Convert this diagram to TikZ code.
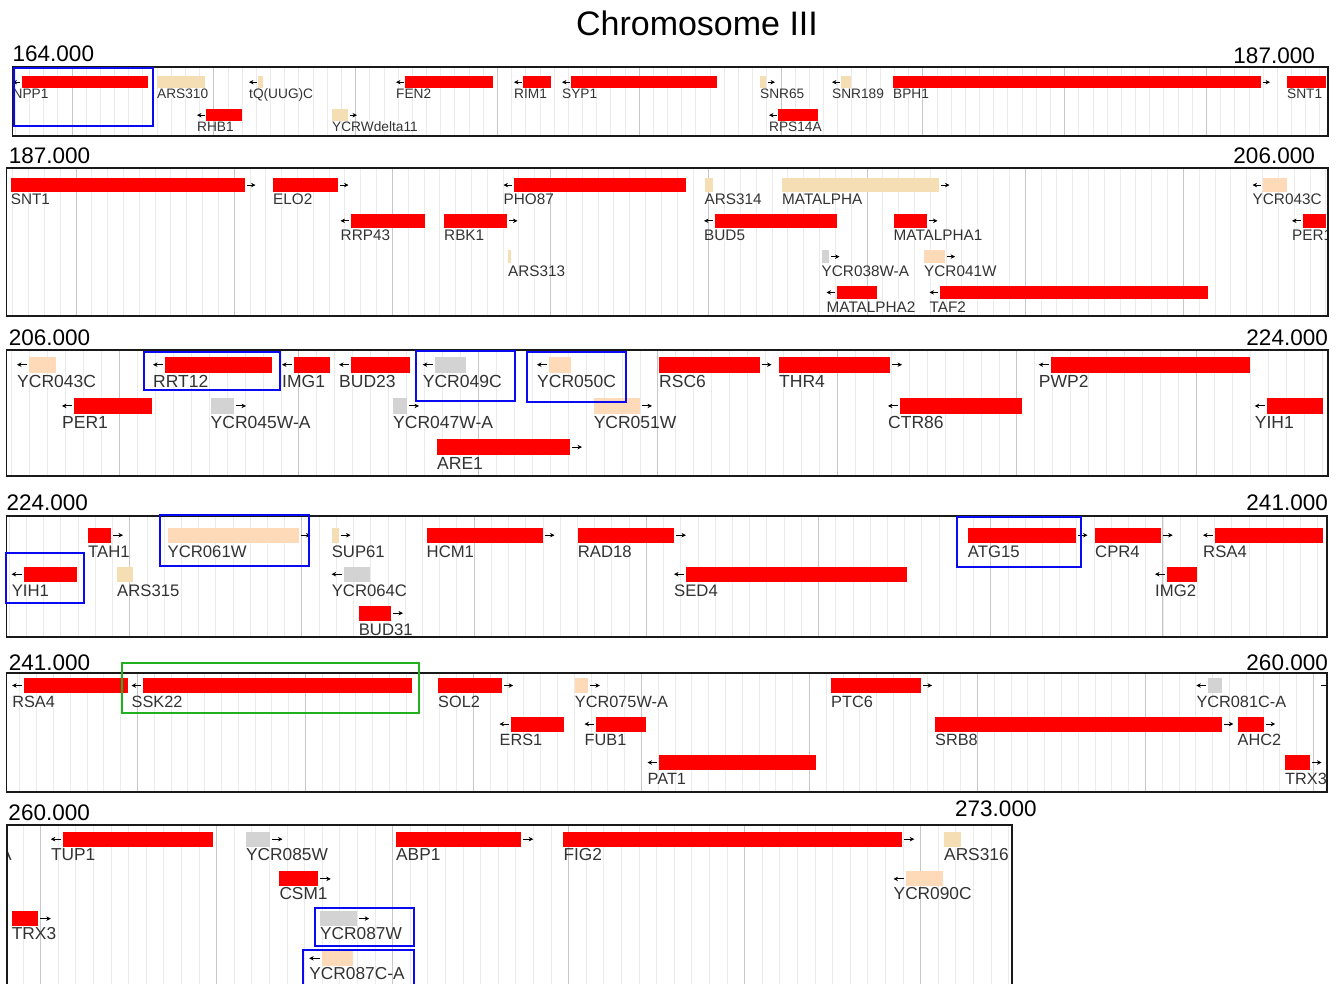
\documentclass[tikz,border=0pt]{standalone}
\usepackage{fontspec}
\setmainfont{Liberation Sans}
\usetikzlibrary{arrows.meta}

\definecolor{genered}{HTML}{FF0000}
\definecolor{wheatc}{HTML}{F5DEB3}
\definecolor{peachc}{HTML}{FFDAB9}
\definecolor{grayc}{HTML}{D3D3D3}
\definecolor{hiblue}{HTML}{0A0AF0}
\definecolor{higreen}{HTML}{20B020}

\tikzset{
  panelbox/.style={draw=black!90, line width=1.8pt},
  minorgrid/.style={draw=black!8, line width=0.9pt},
  majorgrid/.style={draw=black!22, line width=1pt},
  strand/.style={-{Stealth[length=4.5pt,width=4.5pt]}, line width=1pt, black},
  glabel/.style={anchor=base west, inner sep=0pt, text=black!80,
    font=\fontsize{\lblsize}{\lblsize}\selectfont},
  axislabel/.style={inner sep=0pt, font=\fontsize{22.5}{23}\selectfont},
  hilite/.style={draw=hiblue, line width=2pt},
}

\begin{document}
\begin{tikzpicture}[x=1pt, y=-1pt]
  \useasboundingbox (0,0) rectangle (1341,983);
  \fill[white] (0,0) rectangle (1341,983);
  \node[font=\fontsize{34}{36}\selectfont, anchor=base, inner sep=0pt] (title) at (697,35) {Chromosome III};

  % Panel 1: 164.000 - 187.000
  \node[axislabel, anchor=base west] (p1-start) at (12.5,61.5) {164.000};
  \node[axislabel, anchor=base east] (p1-end) at (1315,63) {187.000};
  \begin{scope}
    \clip (12.5,67) rectangle (1328,136);
    \foreach \k in {0,...,92} \draw[minorgrid] ({15.3+\k*14.18},67) -- ++(0,69);
    \foreach \k in {0,...,8} \draw[majorgrid] ({72+\k*141.8},67) -- ++(0,69);
    \def\lblsize{13.7}
    \foreach \xa/\xb/\rw/\cl/\sd/\nm [count=\i] in {
        21.5/148/1/genered/-1/NPP1, 157/205/1/wheatc/0/ARS310,
        258/263/1/wheatc/-1/{tQ(UUG)C}, 405/493/1/genered/-1/FEN2,
        523/551/1/genered/-1/RIM1, 571/717/1/genered/-1/SYP1,
        760/766/1/wheatc/1/SNR65, 841/851/1/wheatc/-1/SNR189,
        893/1261/1/genered/1/BPH1, 1287/1326/1/genered/1/SNT1,
        206/242/2/genered/-1/RHB1, 332/348/2/wheatc/1/YCRWdelta11,
        778/818/2/genered/-1/RPS14A} {
      \pgfmathsetmacro\yt{76+(\rw-1)*33}
      \fill[\cl] (\xa,\yt) rectangle (\xb,\yt+12.3);
      \ifnum\sd<0 \draw[strand] (\xa-1.5,\yt+6.15) -- ++(-7.5,0); \fi
      \ifnum\sd>0 \draw[strand] (\xb+1.5,\yt+6.15) -- ++(7.5,0); \fi
      \pgfmathsetmacro\lx{\xa-(\sd<0)*9}
      \node[glabel] (p1-\i) at (\lx,\yt+22.8) {\nm};
    }
  \end{scope}
  \draw[panelbox] (12.5,67) rectangle (1328,136);
  \draw[hilite] (14,68.3) rectangle (152.5,126);

  % Panel 2: 187.000 - 206.000
  \node[axislabel, anchor=base west] (p2-start) at (8.6,163) {187.000};
  \node[axislabel, anchor=base east] (p2-end) at (1315,163) {206.000};
  \begin{scope}
    \clip (6.4,168.3) rectangle (1328,315.7);
    \foreach \k in {0,...,83} \draw[minorgrid] ({12.7+\k*15.82},168.3) -- ++(0,147.4);
    \foreach \k in {0,...,7} \draw[majorgrid] ({76+\k*158.2},168.3) -- ++(0,147.4);
    \def\lblsize{15.3}
    \foreach \xa/\xb/\rw/\cl/\sd/\nm [count=\i] in {
        10.7/245/1/genered/1/SNT1, 273/338/1/genered/1/ELO2,
        514/686/1/genered/-1/PHO87, 704.5/713/1/wheatc/0/ARS314,
        782/939/1/wheatc/1/MATALPHA, 1263/1287/1/peachc/-1/YCR043C,
        351/425/2/genered/-1/RRP43, 444/507/2/genered/1/RBK1,
        714.5/837/2/genered/-1/BUD5, 893.5/927/2/genered/1/MATALPHA1,
        1302.5/1326/2/genered/-1/PER1,
        508/510.5/3/wheatc/0/ARS313, 821.5/829/3/grayc/1/YCR038W-A,
        924/944.6/3/peachc/1/YCR041W,
        837/877/4/genered/-1/MATALPHA2, 940/1208/4/genered/-1/TAF2} {
      \pgfmathsetmacro\yt{178.3+(\rw-1)*35.8}
      \fill[\cl] (\xa,\yt) rectangle (\xb,\yt+13.5);
      \ifnum\sd<0 \draw[strand] (\xa-2,\yt+6.75) -- ++(-8.5,0); \fi
      \ifnum\sd>0 \draw[strand] (\xb+2,\yt+6.75) -- ++(8.5,0); \fi
      \pgfmathsetmacro\lx{\xa-(\sd<0)*10.5}
      \node[glabel] (p2-\i) at (\lx,\yt+26.5) {\nm};
    }
  \end{scope}
  \draw[panelbox] (6.4,168.3) rectangle (1328,315.7);

  % Panel 3: 206.000 - 224.000
  \node[axislabel, anchor=base west] (p3-start) at (8.6,345) {206.000};
  \node[axislabel, anchor=base east] (p3-end) at (1328,345) {224.000};
  \begin{scope}
    \clip (6.4,350) rectangle (1328,476);
    \foreach \k in {0,...,73} \draw[minorgrid] ({11.7+\k*17.95},350) -- ++(0,126);
    \foreach \k in {0,...,6} \draw[majorgrid] ({119.4+\k*179.5},350) -- ++(0,126);
    \def\lblsize{17.5}
    \foreach \xa/\xb/\rw/\cl/\sd/\nm [count=\i] in {
        29/56/1/peachc/-1/YCR043C, 165/271.5/1/genered/-1/RRT12,
        294/329.5/1/genered/-1/IMG1, 351/410/1/genered/-1/BUD23,
        434.7/466/1/grayc/-1/YCR049C, 549/571/1/peachc/-1/YCR050C,
        659/759.5/1/genered/1/RSC6, 779/890/1/genered/1/THR4,
        1050.7/1250/1/genered/-1/PWP2,
        74/151.6/2/genered/-1/PER1, 210.5/234/2/grayc/1/YCR045W-A,
        393/407/2/grayc/1/YCR047W-A, 593.6/640/2/peachc/1/YCR051W,
        900/1022/2/genered/-1/CTR86, 1266.7/1322.6/2/genered/-1/YIH1,
        437/570/3/genered/1/ARE1} {
      \pgfmathsetmacro\yt{356.7+(\rw-1)*41.2}
      \fill[\cl] (\xa,\yt) rectangle (\xb,\yt+16);
      \ifnum\sd<0 \draw[strand] (\xa-2,\yt+8) -- ++(-10,0); \fi
      \ifnum\sd>0 \draw[strand] (\xb+2,\yt+8) -- ++(10,0); \fi
      \pgfmathsetmacro\lx{\xa-(\sd<0)*12}
      \node[glabel] (p3-\i) at (\lx,\yt+30.5) {\nm};
    }
  \end{scope}
  \draw[panelbox] (6.4,350) rectangle (1328,476);
  \draw[hilite] (144,351.7) rectangle (280,390);
  \draw[hilite] (416,350.7) rectangle (514.5,401);
  \draw[hilite] (527,351.7) rectangle (626,401.7);

  % Panel 4: 224.000 - 241.000
  \node[axislabel, anchor=base west] (p4-start) at (6.4,510) {224.000};
  \node[axislabel, anchor=base east] (p4-end) at (1328,510) {241.000};
  \begin{scope}
    \clip (6.4,515.7) rectangle (1327,636.7);
    \foreach \k in {0,...,76} \draw[minorgrid] ({9.2+\k*17.22},515.7) -- ++(0,121);
    \foreach \k in {0,...,6} \draw[majorgrid] ({129.7+\k*172.2},515.7) -- ++(0,121);
    \def\lblsize{16.7}
    \foreach \xa/\xb/\rw/\cl/\sd/\nm [count=\i] in {
        88/111/1/genered/1/TAH1, 167.5/298.5/1/peachc/1/YCR061W,
        331.6/338.5/1/wheatc/1/SUP61, 426.5/542.5/1/genered/1/HCM1,
        577.7/674/1/genered/1/RAD18, 967.7/1075.5/1/genered/1/ATG15,
        1095/1160.7/1/genered/1/CPR4, 1215/1322.6/1/genered/-1/RSA4,
        23.6/76.5/2/genered/-1/YIH1, 117/133/2/wheatc/0/ARS315,
        343.6/370/2/grayc/-1/YCR064C, 686/906.6/2/genered/-1/SED4,
        1167/1197/2/genered/-1/IMG2,
        358.6/391/3/genered/1/BUD31} {
      \pgfmathsetmacro\yt{527.7+(\rw-1)*39}
      \fill[\cl] (\xa,\yt) rectangle (\xb,\yt+15);
      \ifnum\sd<0 \draw[strand] (\xa-2,\yt+7.5) -- ++(-10,0); \fi
      \ifnum\sd>0 \draw[strand] (\xb+2,\yt+7.5) -- ++(10,0); \fi
      \pgfmathsetmacro\lx{\xa-(\sd<0)*12}
      \node[glabel] (p4-\i) at (\lx,\yt+29.3) {\nm};
    }
  \end{scope}
  \draw[panelbox] (6.4,515.7) rectangle (1327,636.7);
  \draw[hilite] (160,515) rectangle (309,566);
  \draw[hilite] (6.4,553) rectangle (83.8,603);
  \draw[hilite] (956.8,517) rectangle (1081,566.7);

  % Panel 5: 241.000 - 260.000
  \node[axislabel, anchor=base west] (p5-start) at (8.6,670) {241.000};
  \node[axislabel, anchor=base east] (p5-end) at (1328,670) {260.000};
  \begin{scope}
    \clip (6.4,673.3) rectangle (1327,791.7);
    \foreach \k in {0,...,77} \draw[minorgrid] ({19.8+\k*16.8},673.3) -- ++(0,118.4);
    \foreach \k in {0,...,7} \draw[majorgrid] ({137.4+\k*168},673.3) -- ++(0,118.4);
    \def\lblsize{16.3}
    \foreach \xa/\xb/\rw/\cl/\sd/\nm [count=\i] in {
        23.6/127.6/1/genered/-1/RSA4, 143/412/1/genered/-1/SSK22,
        438/501.7/1/genered/1/SOL2, 574.7/588.4/1/peachc/1/YCR075W-A,
        831/920.6/1/genered/1/PTC6, 1207.8/1221.8/1/grayc/-1/YCR081C-A,
        511/563.5/2/genered/-1/ERS1, 596/645.5/2/genered/-1/FUB1,
        935/1221.8/2/genered/1/SRB8, 1237.5/1263.7/2/genered/1/AHC2,
        659/815.8/3/genered/-1/PAT1, 1285/1310/3/genered/1/TRX3} {
      \pgfmathsetmacro\yt{678+(\rw-1)*38.5}
      \fill[\cl] (\xa,\yt) rectangle (\xb,\yt+15);
      \ifnum\sd<0 \draw[strand] (\xa-2,\yt+7.5) -- ++(-9.5,0); \fi
      \ifnum\sd>0 \draw[strand] (\xb+2,\yt+7.5) -- ++(9.5,0); \fi
      \pgfmathsetmacro\lx{\xa-(\sd<0)*11.5}
      \node[glabel] (p5-\i) at (\lx,\yt+29) {\nm};
    }
    \draw[strand] (1321,685.5) -- ++(9.5,0);
  \end{scope}
  \draw[panelbox] (6.4,673.3) rectangle (1327,791.7);
  \draw[draw=higreen, line width=2pt] (122.4,663.3) rectangle (418.8,713.3);

  % Panel 6: 260.000 - 273.000
  \node[axislabel, anchor=base west] (p6-start) at (8.3,820) {260.000};
  \node[axislabel, anchor=base west] (p6-end) at (955,816) {273.000};
  \begin{scope}
    \clip (6.7,825) rectangle (1011.7,995);
    \foreach \k in {0,...,56} \draw[minorgrid] ({23.1+\k*17.6},825) -- ++(0,170);
    \foreach \k in {0,...,5} \draw[majorgrid] ({40.7+\k*176},825) -- ++(0,170);
    \def\lblsize{17.3}
    \foreach \xa/\xb/\rw/\cl/\sd/\nm [count=\i] in {
        63.3/212.7/1/genered/-1/TUP1, 246/270/1/grayc/1/YCR085W,
        396/520.7/1/genered/1/ABP1, 563.3/901.7/1/genered/1/FIG2,
        944/960.7/1/wheatc/0/ARS316,
        279.3/318.3/2/genered/1/CSM1, 906/943.3/2/peachc/-1/YCR090C,
        11.7/38.3/3/genered/1/TRX3, 320/356.7/3/grayc/1/YCR087W,
        321.7/353.3/4/peachc/-1/YCR087C-A} {
      \pgfmathsetmacro\yt{831.7+(\rw-1)*39.7}
      \fill[\cl] (\xa,\yt) rectangle (\xb,\yt+15);
      \ifnum\sd<0 \draw[strand] (\xa-2,\yt+7.5) -- ++(-10.5,0); \fi
      \ifnum\sd>0 \draw[strand] (\xb+2,\yt+7.5) -- ++(10.5,0); \fi
      \pgfmathsetmacro\lx{\xa-(\sd<0)*12.5}
      \node[glabel] (p6-\i) at (\lx,\yt+28.5) {\nm};
    }
    \node[glabel, anchor=base east] (p6-cut) at (12,860.2) {YCR081C-A};
  \end{scope}
  \draw[panelbox] (6.7,825) rectangle (1011.7,995);
  \draw[hilite] (315,907.7) rectangle (414.3,945.7);
  \draw[hilite] (302.7,950) rectangle (414.3,995);
\end{tikzpicture}
\end{document}
